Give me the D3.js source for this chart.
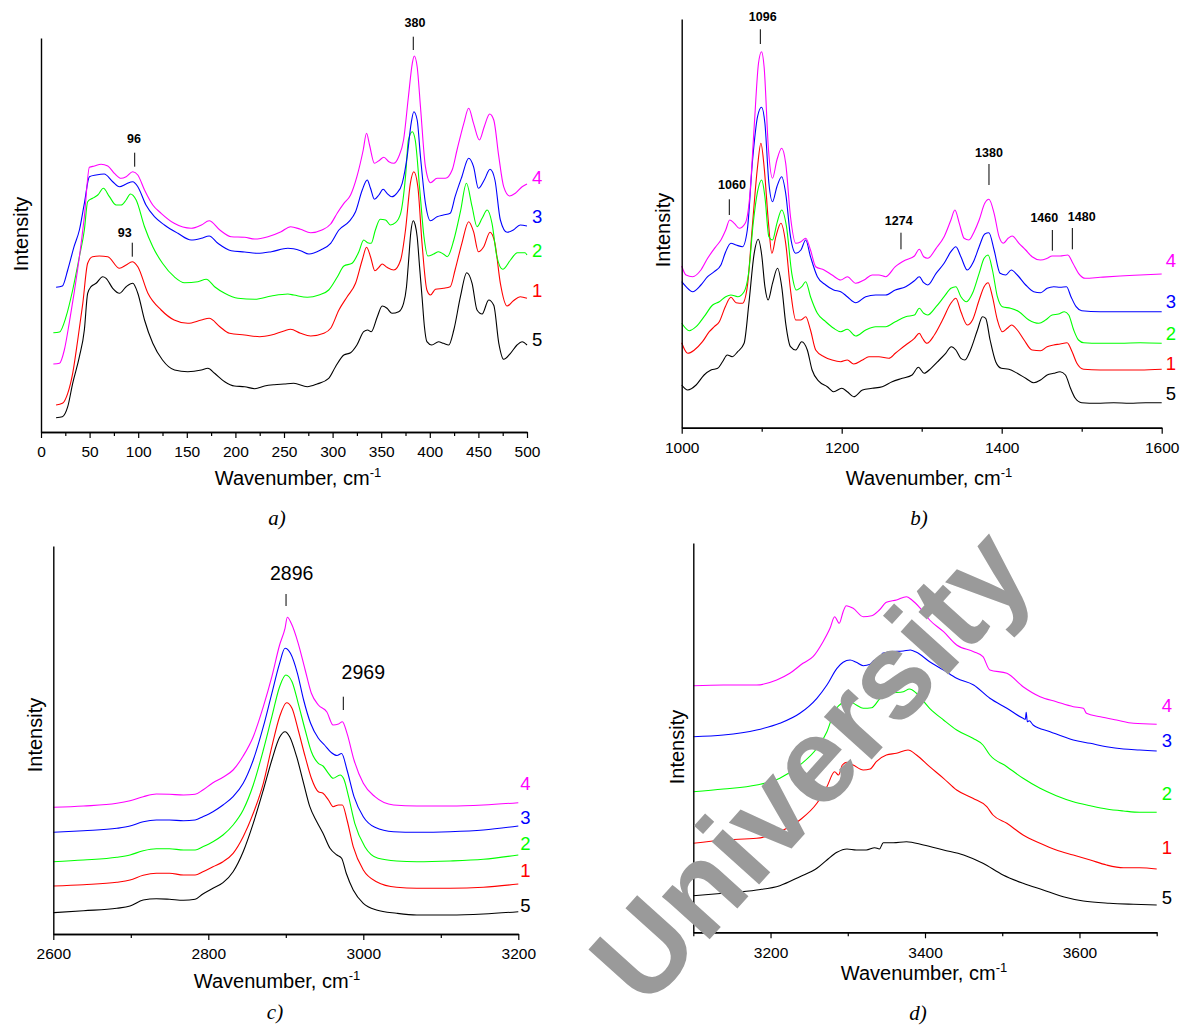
<!DOCTYPE html>
<html>
<head>
<meta charset="utf-8">
<script src="https://cdn.jsdelivr.net/npm/d3@7"></script>
<style>
  body { margin: 0; background: #fff; }
  svg { display: block; font-family: Arial, "Liberation Sans", sans-serif; }
</style>
</head>
<body>
<svg id="chart" width="1182" height="1026"></svg>
<script>
// Raman spectra, four wavenumber windows. Every series is a list of
// [wavenumber cm-1, intensity (arbitrary units, stacked with offsets)].
// Sample numbers follow the labels at the right of each panel.

// ---- panel a) 0-500 cm-1
const a5 = [[15.5,14.3],[22,15.3],[27.5,25.3],[32.6,48.7],[39.5,75.3],[44.6,102],[48,138.7],[51.5,145.3],[56.7,148.7],[63.5,155.3],[67,153.7],[73.8,143.7],[80.7,138.7],[87.6,145.3],[94.4,148.7],[99.6,138.7],[106.5,112],[115,88.7],[125,72],[137.4,62],[151,60.3],[165,62],[171.7,63.7],[178.6,58.7],[189,50.3],[199,46],[209.5,45.3],[220,43.3],[230,46],[240,47.3],[250,48],[260,48.7],[274,45.3],[284,48],[296,53.7],[303,65.3],[311.6,77],[318.5,79.3],[325,87],[332,100.3],[336,102],[339.7,100.3],[346,115.3],[351,126],[356,123.7],[361,118.7],[368,120.3],[373,128.7],[376,145],[378,168.7],[380.5,200],[383,211.3],[385,207],[387,195.3],[389.5,165],[392,135.3],[394.5,105],[397,90.3],[402,87],[409,90.3],[414,88.7],[419.5,87],[424.7,102],[431.5,135.3],[438,159.3],[443.5,148.7],[448.6,122],[453.8,118],[460.6,132],[465.8,126.7],[471,88.7],[476,72.7],[483,78.7],[489.7,87],[494.9,90.3],[500,87]];
const a1 = [[15.5,27],[22,28.7],[27.5,38.7],[32.6,58.7],[37.8,92],[43,128.7],[48,168.7],[53,175.3],[60,176],[68.7,175.3],[80.7,163.7],[87.6,167],[93.8,170.3],[99.6,165.3],[110,138.7],[123.6,122],[137,112],[151,108.7],[165,112],[173,113.7],[184,105.3],[194,98.7],[209.5,97],[225,95.3],[237,97],[250,101],[256.8,102.7],[267,98.7],[277.4,96],[291,98.7],[298,103.7],[306.5,122],[315,135.3],[323.6,148.7],[330.5,172],[335,184.7],[339,175.3],[343.5,161.3],[347.6,164.7],[351,168],[356,164.7],[363,162],[370,172],[375,202],[380,248.7],[383.6,260.3],[387.7,245.3],[392,188.7],[397,142],[400.7,137],[405.8,142.7],[414,143.7],[421,145.3],[426,162],[433,188.7],[440,210.3],[445,200.3],[450,180.3],[455.5,185.3],[462,199.7],[467,188.7],[472.6,148.7],[479.5,126],[486,131.3],[493,135.3],[500,133.7]];
const a2 = [[12.7,99.3],[19,100],[25.8,115.3],[32.6,142],[39.5,175.3],[44.6,202],[48,230.3],[53,233.7],[58.4,237],[64.2,243.7],[70.4,235.3],[77.3,227],[82.4,227],[87.6,232],[92,238],[97.9,232],[106.5,205.3],[115,185.3],[125,168.7],[137,155.3],[147.7,149.3],[161.4,150.3],[170,152.7],[178.6,145.3],[189,138.7],[202.6,133.7],[220,132.7],[237,136],[254,138],[260,137],[274,134.7],[286,137],[296,142],[305,155.3],[311.6,166],[320,168.7],[327,180.3],[332,192],[336,189.3],[339.7,188.7],[344,202],[349,212.7],[354.5,212],[359.6,207],[364.7,209.3],[370,218.7],[375,255.3],[378,292],[382,300.3],[385,292],[389.7,242],[394,195.3],[398,176],[404,178],[409,180.3],[414,178],[418,175.3],[424.7,192],[431.5,220.3],[437.7,248.7],[443.5,225.3],[448.6,205.3],[453.8,213.7],[459,222],[464,208.7],[469,175.3],[475,162.7],[483,172],[490,179.3],[498,179.3],[500,177]];
const a3 = [[15.5,144.7],[22,146],[27.5,162],[34,185.3],[39.5,202],[44.6,228.7],[49.8,255.3],[56.7,257],[65,258],[73.8,250.3],[80.7,245.3],[87.6,248],[94.4,250.3],[99.6,245.3],[108,227],[116.7,215.3],[127,207],[140.8,198.7],[154.5,192],[165,193.7],[173,196],[182,188.7],[195.7,181.3],[209.5,180],[223,178.7],[237,180.3],[254,183.7],[267,181.3],[275.7,178],[287.7,182],[298,188.7],[306.5,202],[316.8,210.3],[323.6,220.3],[330.5,242],[335.6,252],[339,243.7],[343,232.7],[347.6,237],[352,242.7],[356,238.7],[361,235.3],[366,238.7],[371.6,248.7],[376.7,275.3],[380.8,308.7],[383.6,320.3],[387,312],[390.4,275.3],[395.5,228.7],[400.7,211.3],[407.5,215.3],[414,217],[421,218.7],[426,235.3],[433,255.3],[440,273.7],[445,265.3],[450,243.7],[456,252],[462,262.7],[467,252],[472.6,212],[479.5,199.7],[486,202],[493,207],[500,206]];
const a4 = [[12.7,68],[19,68.7],[24,82],[29,108.7],[34,138.7],[39.5,175.3],[44.6,215.3],[49.8,264.7],[55,266],[61.8,267.7],[68.7,266],[75.5,258.7],[82.4,253.7],[87.6,255.3],[94.4,260.3],[99.6,257],[106.5,242],[115,227],[123.6,218.7],[137,208.7],[154.5,203.7],[165,207],[173,211.3],[184,202],[195.7,195.3],[209.5,194.7],[220,193],[233.5,195.3],[247,200.3],[256.8,205.3],[267,202.7],[277.4,199.3],[289,202],[298,208],[305,219.3],[311.6,228.7],[318.5,237],[325,255.3],[331.5,282],[334.9,298.7],[338,287],[343,268.7],[347.6,271.3],[352.7,274.7],[357.9,270.3],[363,268.7],[368,275.3],[373,292],[378,335.3],[382,368.7],[384,376],[387,365.3],[390.4,325.3],[395.5,265.3],[400.7,249.3],[407.5,253.7],[416,253.7],[423,262],[428,282],[435,308.7],[440,323.7],[445,308.7],[451,292],[456,305.3],[461.6,318],[465.8,312],[471,275.3],[476,245.3],[482,236],[488,238.7],[495,245.3],[500,248]];

// ---- panel b) 1000-1600 cm-1
const b5 = [[1000,42.7],[1007.5,37.7],[1018,42.7],[1028,52.7],[1036.6,57.7],[1045,59.4],[1051,66],[1057,72.7],[1063,71],[1070,76],[1078,84.4],[1084,124.4],[1090.6,174.4],[1095.6,188.4],[1100,172.7],[1104,141],[1108,127.7],[1113.5,144.4],[1119.8,159.4],[1125,141],[1130,104.4],[1136,81],[1142.6,77.7],[1150,86],[1157,77.7],[1163,57.7],[1172,46],[1182,41],[1190,36],[1200,39.4],[1207,36],[1215,31],[1226,37.7],[1238,39.4],[1250.7,41],[1263,46],[1275.7,49.4],[1288,52.7],[1295.9,60.4],[1303,54.4],[1311.6,59.4],[1322,67.7],[1330,74.4],[1337,81],[1342.7,77.7],[1349,69.4],[1354,67.7],[1361,77.7],[1369.7,97.7],[1376,111],[1380,109.4],[1385.5,87.7],[1392.5,66],[1399.6,59.4],[1409,58.4],[1419.5,54.4],[1430,49.4],[1440,45],[1448.5,47.7],[1456.8,52.7],[1465,54.4],[1473,56],[1479.7,52.7],[1486,39.4],[1492,29.4],[1500,25],[1519,24.4],[1540,25],[1560,24.4],[1580,25],[1600,25]];
const b1 = [[1000,85],[1007.5,74.4],[1015.8,77.7],[1026,86],[1034.5,96],[1040.7,101],[1047,106],[1054.5,121],[1061.5,130.4],[1068,125],[1076,124.4],[1082,141],[1088.6,204.4],[1094.8,261],[1099,284.4],[1103,261],[1108.5,204.4],[1112.7,174.4],[1117.7,191],[1124,204.4],[1130,184.4],[1136,137.7],[1142.6,107.7],[1149,107.7],[1155,111],[1161,97.7],[1167.5,77.7],[1178,71],[1188,67.7],[1198.8,66],[1207,67.7],[1215,63.7],[1226,67.7],[1234,71],[1246.5,71],[1259,69.4],[1267,74.4],[1280,82.7],[1290.9,89.4],[1297,94.4],[1301,89.4],[1306.6,84.4],[1315.8,92.7],[1326,107.7],[1336.5,124.4],[1342.7,129.4],[1349,116],[1357,102.7],[1363.5,107.7],[1371.8,127.7],[1378,141],[1383,145],[1388.4,131],[1394.6,107.7],[1400.8,96],[1407,99.4],[1412.4,102.7],[1419.5,97.7],[1428,87.7],[1438,77.7],[1448.5,77],[1456.8,81],[1465,82.7],[1473,83.7],[1481.7,85],[1488,76],[1494,64.4],[1502.5,58.4],[1523,57.7],[1548,57.7],[1573,57.7],[1600,58.4]];
const b2 = [[1000,104.4],[1009.5,97],[1018,101],[1028,111],[1038.7,122.7],[1047,126],[1055,131],[1061.5,132.7],[1070,131],[1078,136],[1083.6,154.4],[1089.4,204.4],[1094.8,236],[1100,247.7],[1104,231],[1109,191],[1113.5,187.7],[1119,204.4],[1125,217.7],[1131,201],[1137.6,154.4],[1143.4,137.7],[1150,141],[1155,146],[1161,131],[1169.6,114.4],[1180,106],[1190,99.4],[1198.8,96],[1207,98.4],[1217.5,91.7],[1230,97.7],[1242.4,101],[1255,101],[1267,106],[1280,111],[1290.9,112.7],[1297,119.4],[1302.5,114.4],[1307.5,112.7],[1318,121],[1328,131],[1336.5,139.4],[1342.7,141],[1349,131],[1356,126],[1363.5,134.4],[1371.8,154.4],[1378,169.4],[1383,172.7],[1388.4,157.7],[1394.6,131],[1400.8,121],[1411,119.4],[1421.6,116],[1434,107.7],[1446.5,104.4],[1454.8,107.7],[1463,112.7],[1471,113.7],[1478.4,116],[1483.8,112.7],[1490,97.7],[1496,87.7],[1502.5,85],[1523,84.4],[1548,84.4],[1573,85],[1600,84.4]];
const b3 = [[1000,146],[1005.4,141],[1013.7,136],[1024,142.7],[1032.4,151],[1040.7,156],[1049,162.7],[1055,176],[1061.5,184.4],[1068,182.7],[1076,181],[1082,197.7],[1088.6,267.7],[1094.8,311],[1099.8,320.4],[1104,304.4],[1109,244.4],[1113.5,226],[1119,241],[1125,251],[1130,234.4],[1136,191],[1142.6,174.4],[1149,177.7],[1155,187.7],[1161,171],[1169.6,151],[1180,142.7],[1190,137.7],[1198.8,136],[1207,131],[1217.5,125],[1230,131],[1242.4,132.7],[1255,132.7],[1267,137.7],[1280,141],[1290.9,147],[1297,151],[1302.5,145],[1307.5,142.7],[1318,154.4],[1328,164.4],[1336.5,176],[1342.7,181],[1349,171],[1357,157.7],[1364.7,166],[1371.8,181],[1378.8,193.7],[1384,195],[1390.5,177.7],[1398,154.4],[1405,152.7],[1412,157.7],[1419.5,152.7],[1430,142.7],[1440,136],[1448.5,135],[1456.8,139.4],[1465,141],[1473,140.4],[1481,141],[1486.6,131],[1493,121],[1500,117],[1523,116],[1548,116],[1573,116],[1600,116]];
const b4 = [[1000,161.7],[1005.4,152.7],[1013.7,151],[1024,157.7],[1032.4,169.4],[1042,180.4],[1049,187.7],[1055,197.7],[1060,207.7],[1065.7,204.4],[1072,199.4],[1079.4,204.4],[1085,231],[1090.6,301],[1096,364.4],[1099.8,376],[1103,361],[1108.5,277.7],[1113.5,249.4],[1119,267.7],[1125,279.4],[1130,264.4],[1136,211],[1142.6,184.4],[1149,186],[1155,189.4],[1161,177.7],[1167.5,161],[1178,157.7],[1188,152.7],[1198.8,147.7],[1207,151],[1217.5,144.4],[1228,147.7],[1238,152.7],[1246.5,152.7],[1255,151],[1267,161],[1280,167.7],[1290.9,171.7],[1297,178.4],[1302.5,171],[1307.5,169.4],[1318,179.4],[1328,191],[1336.5,207.7],[1341.5,217.7],[1347,204.4],[1353,189.4],[1359,187.7],[1365.6,196],[1371.8,207.7],[1378.8,224.4],[1384,228.4],[1390.5,214.4],[1396.7,191],[1402,184.4],[1408,189.4],[1413,191.7],[1421.6,184.4],[1430,177.7],[1438,171],[1448.5,167.7],[1456.8,169.4],[1463,171.7],[1473,171.7],[1482.6,172.7],[1489,164.4],[1496,154.4],[1504.6,149.4],[1523,150.4],[1548,151.7],[1573,152.7],[1600,153.7]];

// ---- panel c) 2600-3200 cm-1
const c5 = [[2600,21.3],[2639,23.3],[2682,25.7],[2699,28],[2716,34],[2733,35.3],[2750,34.7],[2768,33.7],[2783,34.7],[2793,40],[2806,45.7],[2819,51.3],[2832,62.3],[2845,82.3],[2858,110.7],[2871,144],[2882,174],[2892,196.7],[2899,202.3],[2905,197.3],[2914,177.3],[2923,150.7],[2931,127.3],[2940,112.3],[2948,100.7],[2957,85.7],[2966,79],[2972,75.7],[2978,60.7],[2987,44],[3000,30.7],[3017,24],[3043,20.7],[3069,19],[3112,19],[3155,20],[3200,22.3]];
const c1 = [[2600,48],[2639,49.3],[2682,51.7],[2699,54],[2716,58.7],[2733,60.7],[2750,60.7],[2768,59],[2783,59],[2793,62.3],[2806,67.3],[2819,72.3],[2832,80.7],[2845,97.3],[2858,120.7],[2871,150.7],[2882,187.3],[2892,217.3],[2901,231.3],[2908,225.7],[2916,204],[2925,177.3],[2933,155.7],[2942,142.3],[2948,140.7],[2955,134],[2961,127.3],[2968,129],[2973,129],[2979,114],[2987,87.3],[3000,64],[3017,52.3],[3043,46.7],[3069,45.7],[3112,45.7],[3155,46.7],[3200,50]];
const c2 = [[2600,72.3],[2639,74],[2682,76.7],[2699,79],[2716,83.3],[2733,85.3],[2750,85.3],[2768,84],[2783,84],[2793,87.3],[2806,92.3],[2819,99],[2832,109],[2845,124],[2858,149],[2871,184],[2882,217.3],[2892,247.3],[2900,259],[2908,252.3],[2916,230.7],[2925,204],[2933,182.3],[2942,170.7],[2948,168],[2955,160.7],[2961,155.7],[2970,159],[2975,154.7],[2981,137.3],[2989,110.7],[3002,87.3],[3019,75.7],[3043,73],[3069,72.3],[3112,73],[3155,74.7],[3200,79]];
const c3 = [[2600,101.7],[2639,103.3],[2682,105.7],[2699,108],[2716,112.3],[2733,114],[2750,114],[2768,113.3],[2783,114],[2793,117.3],[2806,122.3],[2819,129],[2832,137.3],[2845,150.7],[2858,174],[2871,207.3],[2882,240.7],[2892,270.7],[2899,285.7],[2906,280.7],[2915,260.7],[2923,234],[2932,210.7],[2942,195.7],[2950,189],[2959,181.3],[2966,178.5],[2972,180.5],[2979,164],[2988,137.3],[3000,117.3],[3015,106.7],[3039,102.3],[3069,101.7],[3112,102.3],[3155,104],[3200,108]];
const c4 = [[2600,126.7],[2639,128],[2682,130.7],[2699,133.3],[2716,137.3],[2733,140],[2750,139.7],[2768,139],[2783,139.7],[2793,144],[2806,151.3],[2819,156.7],[2832,164],[2845,178],[2858,197.3],[2871,227.3],[2882,257.3],[2892,289],[2899,305.7],[2902,316.7],[2907,310.7],[2916,290.7],[2925,264],[2933,240.7],[2942,229],[2953,222],[2961,209],[2968,210],[2973,212.3],[2979,200.7],[2988,174],[3000,150.7],[3015,137.3],[3039,129],[3069,128],[3112,128],[3155,129],[3200,131.3]];

// ---- panel d) 3100-3700 cm-1
const d5 = [[3100,36.6],[3139,39],[3182,42.3],[3212,46.6],[3238,55.6],[3260,64],[3273,72.3],[3286,80],[3299,83.3],[3311,82.3],[3324,82.3],[3335,84.6],[3341,83.3],[3346,89.6],[3359,89.6],[3376,90.6],[3398,87.3],[3424,82.3],[3450,77.3],[3475,69],[3501,57.3],[3527,49],[3553,42.3],[3579,35.6],[3605,31.3],[3639,29],[3670,28],[3700,27.3]];
const d1 = [[3100,89],[3139,92.3],[3182,94],[3212,100.6],[3238,112.3],[3260,129],[3273,145.6],[3283,160.6],[3288,157.3],[3293,167.3],[3299,170],[3307,167.3],[3320,162.3],[3329,163.3],[3337,170.6],[3350,177.3],[3363,179],[3378,182.3],[3389,177.3],[3406,165.6],[3424,154],[3441,142.3],[3462,134],[3480,125.6],[3488,117.3],[3506,109],[3527,97.3],[3549,89],[3570,82.3],[3592,77.3],[3614,72.3],[3635,67.3],[3657,64.6],[3678,64.6],[3700,63.3]];
const d2 = [[3100,140.6],[3139,143.3],[3182,147.3],[3212,154],[3238,167.3],[3260,184],[3273,200.6],[3281,217.3],[3286,224.6],[3292,229],[3299,232.3],[3311,227.3],[3320,224],[3331,224.6],[3342,234],[3355,239],[3372,240.6],[3380,243.3],[3389,239],[3406,224],[3424,212.3],[3441,202.3],[3462,194],[3475,187.3],[3484,177.3],[3506,165.6],[3527,154],[3549,144],[3570,136.6],[3592,130.6],[3614,126.6],[3635,123.3],[3657,121.3],[3678,120],[3700,120]];
const d3Series = [[3100,195.6],[3139,197.3],[3182,202.3],[3212,209],[3238,219],[3260,234],[3273,247.3],[3286,264],[3294,270],[3303,272.3],[3311,270],[3320,266.6],[3329,268],[3335,272.3],[3341,270.6],[3345,279],[3355,280.6],[3372,281.3],[3381,282.3],[3389,280],[3406,270.6],[3424,262.3],[3441,254],[3463,247.3],[3484,234],[3506,224],[3527,214],[3530,213],[3531,220],[3532.5,210.6],[3535,211.5],[3540,207.3],[3562,200.6],[3592,192.3],[3614,189],[3635,185.6],[3657,183.3],[3678,182.3],[3700,181.3]];
const d4 = [[3100,246.6],[3139,247.3],[3182,247.3],[3208,252.3],[3225,259],[3242,269],[3255,275.6],[3268,290.6],[3277,304],[3283,315.6],[3289,309],[3294,320.6],[3298,326.6],[3307,324],[3320,315.6],[3331,316.6],[3341,322.3],[3350,330],[3363,332.3],[3376,335.6],[3383,332.3],[3394,324],[3406,312.3],[3424,300.6],[3441,287.3],[3463,280.6],[3475,275.6],[3484,262.3],[3506,259],[3527,245.6],[3549,235.6],[3570,230.6],[3592,225.6],[3605,224],[3609,219],[3627,215.6],[3648,212.3],[3670,209],[3700,208]];

// axis ticks
const ticksA = [0, 50, 100, 150, 200, 250, 300, 350, 400, 450, 500];
const minorA = [25, 75, 125, 175, 225, 275, 325, 375, 425, 475];
const ticksB = [1000, 1200, 1400, 1600];
const minorB = [1100, 1300, 1500];
const ticksC = [2600, 2800, 3000, 3200];
const minorC = [2700, 2900, 3100];
const ticksD = [3200, 3400, 3600];
const minorD = [3100, 3300, 3500, 3700];

// peak marks: label, wavenumber of the mark, text position
const peaksA = [
  { label: '380', wn: 383, from: 382, to: 395.3, textWn: 384.8, textAt: 409.3 },
  { label: '96', wn: 96.4, from: 265.3, to: 279.3, textWn: 95.7, textAt: 293 },
  { label: '93', wn: 93.9, from: 175.3, to: 189.3, textWn: 86.1, textAt: 199.3 },
];
const peaksB = [
  { label: '1096', wn: 1098.3, from: 383.7, to: 398.4, textWn: 1101.3, textAt: 410.4 },
  { label: '1060', wn: 1059.5, from: 212.7, to: 228.4, textWn: 1062.9, textAt: 242.7 },
  { label: '1274', wn: 1274.1, from: 178.4, to: 195, textWn: 1271.3, textAt: 207 },
  { label: '1380', wn: 1384.1, from: 242.7, to: 263.7, textWn: 1384.1, textAt: 274.4 },
  { label: '1460', wn: 1463.3, from: 177, to: 197.7, textWn: 1453.3, textAt: 209.4 },
  { label: '1480', wn: 1488.3, from: 178.4, to: 199.7, textWn: 1500, textAt: 210.4 },
];
const peaksC = [
  { label: '2896', wn: 2900.3, from: 328, to: 340, textWn: 2907.6, textAt: 360.7 },
  { label: '2969', wn: 2974.2, from: 224, to: 237.3, textWn: 3000, textAt: 261.7 },
];

const colors = { 4: '#ff00ff', 3: '#0000ff', 2: '#00ff00', 1: '#ff0000', 5: '#000000' };

const panels = [
  {
    name: 'a)', xDomain: [0, 500], yMax: 394, left: 41, right: 527, top: 38, bottom: 432,
    series: { 5: a5, 1: a1, 2: a2, 3: a3, 4: a4 },
    labelAt: { 4: 255, 3: 216, 2: 182, 1: 142, 5: 93 },
    ticks: ticksA, minor: minorA, peaks: peaksA, peakFont: 'bold 12.5px Arial',
    titleX: 298, titleDy: 53, yTitleX: 21, yTitleY: 234, capX: 277, capY: 525, labelDx: 5,
  },
  {
    name: 'b)', xDomain: [1000, 1600], yMax: 408.7, left: 681.7, right: 1161.7, top: 19, bottom: 427.7,
    series: { 5: b5, 1: b1, 2: b2, 3: b3, 4: b4 },
    labelAt: { 4: 167.7, 3: 126.7, 2: 94.7, 1: 64.7, 5: 34.7 },
    ticks: ticksB, minor: minorB, peaks: peaksB, peakFont: 'bold 12.5px Arial',
    titleX: 929, titleDy: 57, yTitleX: 663, yTitleY: 230, capX: 919, capY: 525, labelDx: 4,
  },
  {
    name: 'c)', xDomain: [2600, 3200], yMax: 388, left: 53.3, right: 518.3, top: 546, bottom: 934,
    series: { 5: c5, 1: c1, 2: c2, 3: c3, 4: c4 },
    labelAt: { 4: 151, 3: 117, 2: 91, 1: 64, 5: 29 },
    ticks: ticksC, minor: minorC, peaks: peaksC, peakFont: '19.5px Arial',
    titleX: 277, titleDy: 54, yTitleX: 35, yTitleY: 735, capX: 275, capY: 1019, labelDx: 2,
  },
  {
    name: 'd)', xDomain: [3100, 3700], yMax: 389.3, left: 693.3, right: 1156.7, top: 543, bottom: 932.3,
    series: { 5: d5, 1: d1, 2: d2, 3: d3Series, 4: d4 },
    labelAt: { 4: 227.3, 3: 192.3, 2: 139.3, 1: 85.3, 5: 35.3 },
    ticks: ticksD, minor: minorD, peaks: [], peakFont: '19.5px Arial',
    titleX: 924, titleDy: 48, yTitleX: 677, yTitleY: 747, capX: 918, capY: 1020, labelDx: 5,
  },
];

const svg = d3.select('#chart');

panels.forEach((p) => {
  const x = d3.scaleLinear().domain(p.xDomain).range([p.left, p.right]);
  const y = d3.scaleLinear().domain([0, p.yMax]).range([p.bottom, p.top]);
  const g = svg.append('g');

  // spectra
  const line = d3.line()
    .x((d) => x(d[0]))
    .y((d) => y(d[1]))
    .curve(d3.curveMonotoneX);
  Object.entries(p.series).forEach(([key, pts]) => {
    g.append('path')
      .datum(pts)
      .attr('fill', 'none')
      .attr('stroke', colors[key])
      .attr('stroke-width', 1.1)
      .attr('d', line);
  });

  // x axis: labelled major ticks + small minor ticks
  const major = d3.axisBottom(x).tickValues(p.ticks).tickSize(6).tickSizeOuter(0).tickFormat(d3.format('d'));
  const minor = d3.axisBottom(x).tickValues(p.minor).tickSize(4).tickSizeOuter(0).tickFormat('');
  [minor, major].forEach((ax) => {
    const axg = g.append('g').attr('transform', `translate(0,${p.bottom})`).call(ax);
    axg.select('.domain').attr('stroke-width', 1.4);
    axg.selectAll('.tick line').attr('stroke-width', 1.2);
    axg.selectAll('text').attr('font-size', 15.5).attr('font-family', 'Arial, "Liberation Sans", sans-serif').attr('dy', '1.05em').attr('fill', '#000');
  });

  // y axis is a bare line
  g.append('g')
    .attr('transform', `translate(${p.left},0)`)
    .call(d3.axisLeft(y).tickValues([]).tickSizeOuter(0))
    .select('.domain').attr('stroke-width', 1.4);

  // axis titles
  const t = g.append('text')
    .attr('x', p.titleX)
    .attr('y', p.bottom + p.titleDy)
    .attr('text-anchor', 'middle')
    .attr('font-size', 20)
    .text('Wavenumber, cm');
  t.append('tspan').attr('dy', -8).attr('font-size', 13).text('-1');

  g.append('text')
    .attr('transform', `translate(${p.yTitleX},${p.yTitleY}) rotate(-90)`)
    .attr('text-anchor', 'middle')
    .attr('dominant-baseline', 'central')
    .attr('font-size', 20)
    .text('Intensity');

  // sample numbers at the right end
  Object.entries(p.labelAt).forEach(([key, level]) => {
    g.append('text')
      .attr('x', p.right + p.labelDx)
      .attr('y', y(level))
      .attr('dominant-baseline', 'central')
      .attr('font-size', 18.5)
      .attr('fill', colors[key])
      .text(key);
  });

  // peak marks
  p.peaks.forEach((pk) => {
    g.append('line')
      .attr('x1', x(pk.wn)).attr('x2', x(pk.wn))
      .attr('y1', y(pk.from)).attr('y2', y(pk.to))
      .attr('stroke', '#000')
      .attr('stroke-width', 1);
    g.append('text')
      .attr('x', x(pk.textWn))
      .attr('y', y(pk.textAt))
      .attr('text-anchor', 'middle')
      .attr('dominant-baseline', 'central')
      .style('font', p.peakFont)
      .text(pk.label);
  });

  // panel caption
  g.append('text')
    .attr('x', p.capX)
    .attr('y', p.capY)
    .attr('text-anchor', 'middle')
    .attr('font-family', '"Liberation Serif", "Times New Roman", serif')
    .attr('font-style', 'italic')
    .attr('font-size', 21)
    .text(p.name);
});

// grey watermark drawn over the lower panels
svg.append('text')
  .attr('transform', 'translate(810,765) rotate(-48)')
  .attr('text-anchor', 'middle')
  .attr('dominant-baseline', 'central')
  .attr('font-size', 121)
  .attr('font-weight', 'bold')
  .attr('fill', '#9a9a9a')
  .text('University');
</script>
</body>
</html>
